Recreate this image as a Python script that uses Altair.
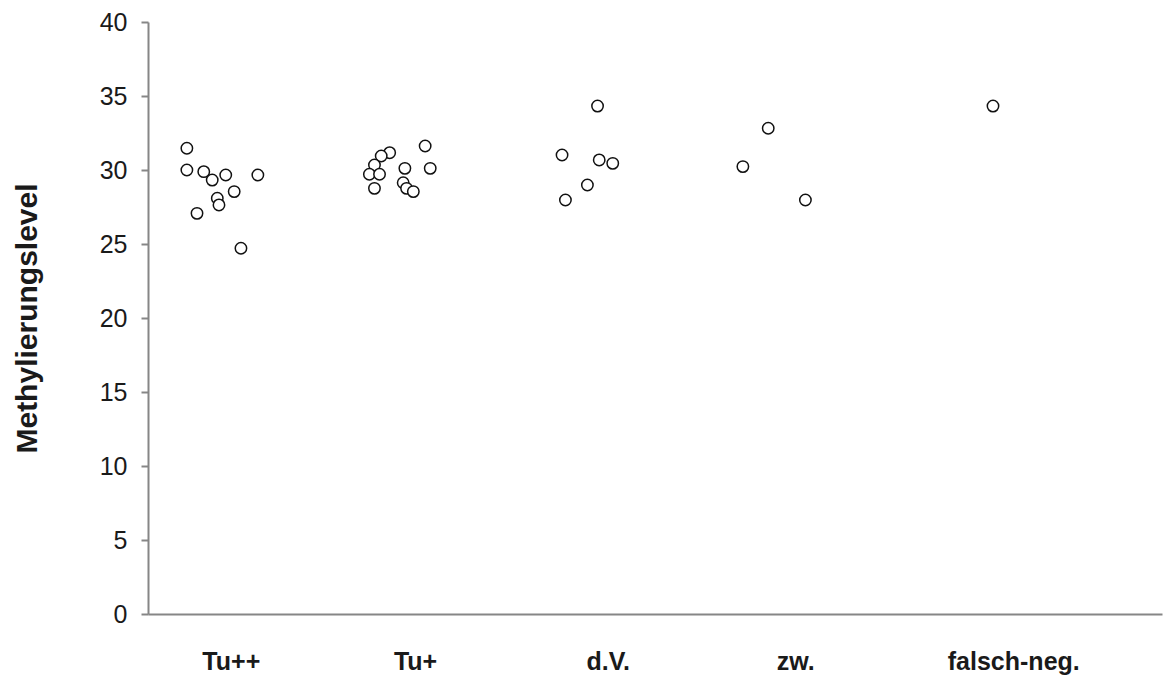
import altair as alt
import pandas as pd

# --- data ---
groups = ["Tu++"] * 11 + ["Tu+"] * 12 + ["d.V."] * 6 + ["zw."] * 3 + ["falsch-neg."] * 1
x_pos = [0.23, 0.23, 0.33, 0.38, 0.46, 0.65, 0.51, 0.41, 0.42, 0.29, 0.55,
         1.43, 1.38, 1.34, 1.31, 1.37, 1.34, 1.52, 1.64, 1.67, 1.51, 1.53, 1.57,
         2.66, 2.45, 2.67, 2.75, 2.60, 2.47,
         3.67, 3.52, 3.89,
         5.00]
methylation = [31.47, 30.00, 29.89, 29.32, 29.66, 29.66, 28.54, 28.09, 27.64, 27.07, 24.71,
               31.17, 30.95, 30.34, 29.71, 29.71, 28.76, 30.11, 31.62, 30.11, 29.14, 28.76, 28.54,
               34.32, 31.01, 30.68, 30.45, 28.99, 27.97,
               32.82, 30.23, 27.97,
               34.32]

category_labels = ["Tu++", "Tu+", "d.V.", "zw.", "falsch-neg."]
label_positions = [0.49, 1.58, 2.72, 3.83, 5.12]
y_ticks = [0, 5, 10, 15, 20, 25, 30, 35, 40]

df = pd.DataFrame({"group": groups, "x": x_pos, "level": methylation})

label_expr = " : ".join(
    f"datum.value < {p + 0.3} ? '{l}'" for p, l in zip(label_positions[:-1], category_labels[:-1])
) + f" : '{category_labels[-1]}'"

font = "Liberation Sans, Arial, sans-serif"

chart = alt.Chart(df).mark_point(
    shape="circle", filled=False, fill="white", fillOpacity=1,
    stroke="#111111", strokeWidth=1.5, size=130, opacity=1
).encode(
    x=alt.X("x:Q",
            scale=alt.Scale(domain=[0, 6], nice=False, zero=False),
            axis=alt.Axis(values=label_positions, labelExpr=label_expr, title=None,
                          grid=False, ticks=False, domainColor="#868686", domainWidth=2,
                          labelFont=font, labelFontSize=25, labelFontWeight="bold",
                          labelColor="#1a1a1a", labelPadding=47, labelBaseline="middle",
                          labelAlign="center")),
    y=alt.Y("level:Q",
            scale=alt.Scale(domain=[0, 40], nice=False),
            axis=alt.Axis(values=y_ticks, title="Methylierungslevel", grid=False,
                          tickSize=7, tickColor="#868686", tickWidth=2,
                          domainColor="#868686", domainWidth=2,
                          labelFont=font, labelFontSize=25, labelColor="#1a1a1a",
                          labelPadding=14,
                          titleFont=font, titleFontSize=30, titleFontWeight="bold",
                          titleColor="#1a1a1a", titleX=-121, titleY=296,
                          titleBaseline="middle", titleAlign="center", titleAngle=-90)),
).properties(
    width=1014, height=592,
    autosize=alt.AutoSizeParams(type="none"),
    padding={"left": 140, "top": 14, "right": 3, "bottom": 70},
).configure_view(stroke=None)

chart.save("out.html", embed_options={"renderer": "svg", "actions": False})
